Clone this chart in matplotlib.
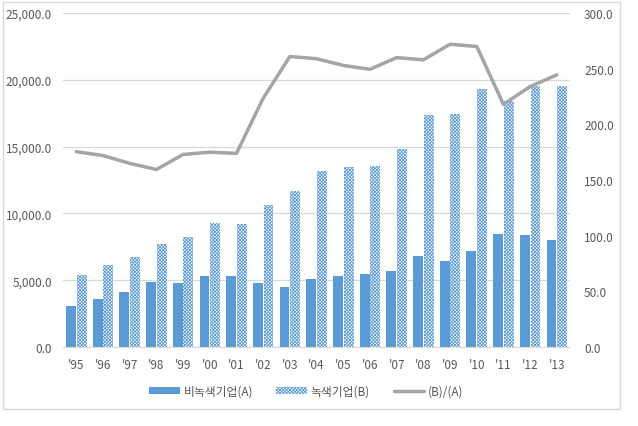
import numpy as np
import matplotlib
matplotlib.use("Agg")
import matplotlib.pyplot as plt
from matplotlib.patches import Rectangle
from matplotlib.ticker import FuncFormatter

plt.rcParams['font.family'] = ['Noto Sans CJK KR', 'DejaVu Sans']
plt.rcParams['hatch.linewidth'] = 0.6

# data
years = ["'95", "'96", "'97", "'98", "'99", "'00", "'01", "'02", "'03", "'04",
         "'05", "'06", "'07", "'08", "'09", "'10", "'11", "'12", "'13"]
non_green = [3070, 3590, 4090, 4840, 4760, 5290, 5290, 4760, 4470, 5090,
             5290, 5440, 5660, 6780, 6410, 7160, 8430, 8360, 7980]
green = [5360, 6110, 6710, 7680, 8200, 9250, 9180, 10600, 11650, 13180,
         13440, 13520, 14790, 17400, 17480, 19300, 18400, 19570, 19520]
ratio = [175.5, 172.0, 165.0, 159.5, 173.0, 175.0, 174.0, 223.5, 261.0, 259.0,
         253.0, 249.5, 260.0, 258.0, 272.0, 270.0, 218.0, 234.0, 244.5]

BLUE = '#5B9BD5'
GRAY = '#A5A5A5'
TXT = '#595959'

fig = plt.figure(figsize=(6.38, 4.27), dpi=100)
# rahmen um das diagramm
fig.patches.append(Rectangle((0.004, 0.04), 0.968, 0.952, transform=fig.transFigure,
                             fill=False, edgecolor='#D9D9D9', linewidth=1.0))

ax = fig.add_axes([0.0987, 0.185, 0.795, 0.782])
ax2 = ax.twinx()

x = np.arange(len(years))
w = 0.37
b1 = ax.bar(x - 0.2, non_green, w, color=BLUE, label='비녹색기업(A)', zorder=2)
b2 = ax.bar(x + 0.2, green, w, facecolor='white', edgecolor=BLUE, hatch='xxxxxxxxxx',
            linewidth=0, label='녹색기업(B)', zorder=2)
l1, = ax2.plot(x, ratio, color=GRAY, linewidth=2.5, label='(B)/(A)',
               solid_joinstyle='round', solid_capstyle='round', zorder=3)

ax.set_xlim(-0.5, len(years) - 0.5)
ax.set_ylim(0, 25000)
ax.set_yticks(np.arange(0, 25001, 5000))
ax.yaxis.set_major_formatter(FuncFormatter(lambda v, p: f'{v:,.1f}'))
ax2.set_ylim(0, 300)
ax2.set_yticks(np.arange(0, 301, 50))
ax2.yaxis.set_major_formatter(FuncFormatter(lambda v, p: f'{v:,.1f}'))

ax.set_xticks(x)
ax.set_xticklabels(years)
ax.grid(axis='y', color='#D9D9D9', linewidth=0.9, zorder=0)
ax.set_axisbelow(True)

for a in (ax, ax2):
    for s in a.spines.values():
        s.set_visible(False)
    a.tick_params(length=0, labelsize=8.5, colors=TXT)
ax.spines['bottom'].set_visible(True)
ax.spines['bottom'].set_color('#D9D9D9')
ax.tick_params(axis='x', pad=8)
ax.tick_params(axis='y', pad=8)
ax2.tick_params(axis='y', pad=10)

fig.legend(handles=[b1, b2, l1], loc='center', bbox_to_anchor=(0.48, 0.082), ncol=3,
           frameon=False, fontsize=8.5, labelcolor=TXT, handlelength=2.6,
           handleheight=0.6, columnspacing=2.0, handletextpad=0.3)

fig.savefig('out.png', dpi=100, facecolor='white')
